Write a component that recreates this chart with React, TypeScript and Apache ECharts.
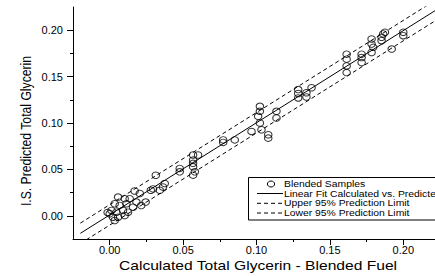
import React, { useEffect, useRef } from "react";
import * as echarts from "echarts";

const blendedX = [
  0.017, 0.028, 0.0057, 0.0102, 0.0136, 0.0182, 0.0245, 0.0034, 0.0068, 0.0114, 0.0159, 0.0012,
  0.0046, 0.0091, 0.0125, 0.0, 0.0022, 0.0057, 0.0102, 0.0034, -0.0014, 0.0205, 0.0215,
  0.0295, 0.0314, 0.0341, 0.0363, 0.0375, 0.0477, 0.0477, 0.0568, 0.0568, 0.0568, 0.0568, 0.058,
  0.0568, 0.0602,
  0.0773, 0.0773, 0.0852,
  0.0966, 0.1023, 0.1023, 0.1011, 0.1023, 0.1034, 0.108, 0.108, 0.1136, 0.1136,
  0.1284, 0.1284, 0.1284, 0.134, 0.134, 0.1375,
  0.1614, 0.1614, 0.1614, 0.1614, 0.1716, 0.1716, 0.1716,
  0.1784, 0.1784, 0.1795, 0.1784, 0.1852, 0.1852, 0.1863, 0.1875, 0.1921, 0.2, 0.2,
];
const blendedY = [
  0.0267, 0.0275, 0.0202, 0.0185, 0.0185, 0.0148, 0.0148, 0.013, 0.0112, 0.013, 0.0093, 0.0058,
  0.0039, 0.0058, 0.0039, 0.0022, -0.0015, -0.0015, 0.0003, -0.0051, 0.0036, 0.024, 0.011,
  0.029, 0.0437, 0.0275, 0.031, 0.0348, 0.0511, 0.0474, 0.0655, 0.06, 0.0565, 0.0528, 0.0474,
  0.0438, 0.0655,
  0.0818, 0.0791, 0.0818,
  0.0909, 0.118, 0.1126, 0.1072, 0.1, 0.0927, 0.0873, 0.0837, 0.1126, 0.1054,
  0.136, 0.1318, 0.127, 0.1326, 0.128, 0.138,
  0.1742, 0.1688, 0.1615, 0.1543, 0.1742, 0.1706, 0.1652,
  0.1905, 0.185, 0.1815, 0.176, 0.1924, 0.1887, 0.196, 0.1978, 0.1797, 0.1978, 0.1941,
];

const fitX = [-0.02, 0.225];
const fitY = [-0.0189, 0.2244];
const upperY = [-0.0079, 0.2354];
const lowerY = [-0.0299, 0.2134];

const xMajorTicks = [0, 0.05, 0.1, 0.15, 0.2];
const xMinorTicks = [0.025, 0.075, 0.125, 0.175];
const yMajorTicks = [0, 0.05, 0.1, 0.15, 0.2];
const yMinorTicks = [0.025, 0.075, 0.125, 0.175];

const legendLabels = [
  "Blended Samples",
  "Linear Fit Calculated vs. Predicted",
  "Upper 95% Prediction Limit",
  "Lower 95% Prediction Limit",
];

const xTitle = "Calculated Total Glycerin - Blended Fuel";
const yTitle = "I.S. Predicted Total Glycerin";

const FONT = '"Liberation Sans", Arial, sans-serif';

export default function App() {
  const ref = useRef<HTMLDivElement>(null);
  useEffect(() => {
    if (!ref.current) return;
    const chart = echarts.init(ref.current, null, { renderer: "svg" });
    const axisCommon = (min: number, max: number) => ({
      type: "value" as const,
      min,
      max,
      splitLine: { show: false },
    });
    const black = { color: "#000", width: 1 };
    const rowY = [184, 193.5, 203.3, 213];
    const legendGraphics: any[] = [
      {
        type: "rect",
        shape: { x: 248.5, y: 177.5, width: 220, height: 42.5 },
        style: { fill: "#fff", stroke: "#000", lineWidth: 1 },
        z: 100,
      },
      {
        type: "ellipse",
        x: 271,
        y: rowY[0],
        shape: { cx: 0, cy: 0, rx: 3.6, ry: 3 },
        style: { fill: "none", stroke: "#000", lineWidth: 1 },
        z: 101,
      },
      {
        type: "line",
        shape: { x1: 257, y1: rowY[1], x2: 283, y2: rowY[1] },
        style: { stroke: "#000", lineWidth: 1 },
        z: 101,
      },
      {
        type: "line",
        shape: { x1: 257, y1: rowY[2], x2: 283, y2: rowY[2] },
        style: { stroke: "#000", lineWidth: 1, lineDash: [4, 3] },
        z: 101,
      },
      {
        type: "line",
        shape: { x1: 257, y1: rowY[3], x2: 283, y2: rowY[3] },
        style: { stroke: "#000", lineWidth: 1, lineDash: [4, 3] },
        z: 101,
      },
      ...legendLabels.map((t, i) => ({
        type: "text",
        x: 284,
        y: rowY[i],
        scaleX: 1.25,
        z: 101,
        style: {
          text: t,
          fill: "#000",
          font: `8.3px ${FONT}`,
          verticalAlign: "middle",
          align: "left",
        },
      })),
      {
        type: "text",
        x: 258,
        y: 266,
        scaleX: 1.25,
        style: {
          text: xTitle,
          fill: "#000",
          font: `12.5px ${FONT}`,
          align: "center",
          verticalAlign: "middle",
        },
      },
      {
        type: "text",
        x: 26,
        y: 131,
        rotation: Math.PI / 2,
        scaleY: 1.25,
        style: {
          text: yTitle,
          fill: "#000",
          font: `12.2px ${FONT}`,
          align: "center",
          verticalAlign: "middle",
        },
      },
    ];

    chart.setOption({
      animation: false,
      grid: { left: 73, right: -5, top: 7, bottom: 37, containLabel: false, outerBoundsMode: "none" },
      xAxis: [
        {
          ...axisCommon(-0.025, 0.225),
          position: "bottom",
          axisLine: { show: true, onZero: false, lineStyle: black },
          axisTick: { show: true, length: 6, customValues: xMajorTicks, lineStyle: black },
          axisLabel: {
            customValues: xMajorTicks,
            formatter: (v: number) => v.toFixed(2),
            margin: 5,
            fontSize: 11,
            color: "#000",
            fontFamily: FONT,
          },
        },
        {
          ...axisCommon(-0.025, 0.225),
          position: "bottom",
          axisLine: { show: false, onZero: false },
          axisTick: { show: true, length: 3, customValues: xMinorTicks, lineStyle: black },
          axisLabel: { show: false },
        },
      ],
      yAxis: [
        {
          ...axisCommon(-0.025, 0.225),
          position: "left",
          axisLine: { show: true, onZero: false, lineStyle: black },
          axisTick: { show: true, length: 6, customValues: yMajorTicks, lineStyle: black },
          axisLabel: {
            customValues: yMajorTicks,
            formatter: (v: number) => v.toFixed(2),
            margin: 10,
            fontSize: 11,
            color: "#000",
            fontFamily: FONT,
          },
        },
        {
          ...axisCommon(-0.025, 0.225),
          position: "left",
          axisLine: { show: false, onZero: false },
          axisTick: { show: true, length: 3, customValues: yMinorTicks, lineStyle: black },
          axisLabel: { show: false },
        },
      ],
      series: [
        {
          name: legendLabels[0],
          type: "scatter",
          xAxisIndex: 0,
          yAxisIndex: 0,
          symbol: "circle",
          symbolSize: [7.5, 6.5],
          itemStyle: { color: "rgba(0,0,0,0)", borderColor: "#000", borderWidth: 1 },
          data: blendedX.map((x, i) => [x, blendedY[i]]),
          z: 3,
        },
        {
          name: legendLabels[1],
          type: "line",
          xAxisIndex: 0,
          yAxisIndex: 0,
          showSymbol: false,
          clip: true,
          lineStyle: { color: "#000", width: 1 },
          data: fitX.map((x, i) => [x, fitY[i]]),
          z: 2,
        },
        {
          name: legendLabels[2],
          type: "line",
          xAxisIndex: 0,
          yAxisIndex: 0,
          showSymbol: false,
          clip: true,
          lineStyle: { color: "#000", width: 1, type: [4, 3] },
          data: fitX.map((x, i) => [x, upperY[i]]),
          z: 2,
        },
        {
          name: legendLabels[3],
          type: "line",
          xAxisIndex: 0,
          yAxisIndex: 0,
          showSymbol: false,
          clip: true,
          lineStyle: { color: "#000", width: 1, type: [4, 3] },
          data: fitX.map((x, i) => [x, lowerY[i]]),
          z: 2,
        },
      ],
      graphic: legendGraphics,
    });
    return () => chart.dispose();
  }, []);
  return (
    <div
      ref={ref}
      style={{ position: "fixed", left: 0, top: 0, width: 435, height: 276, background: "#fff" }}
    />
  );
}
